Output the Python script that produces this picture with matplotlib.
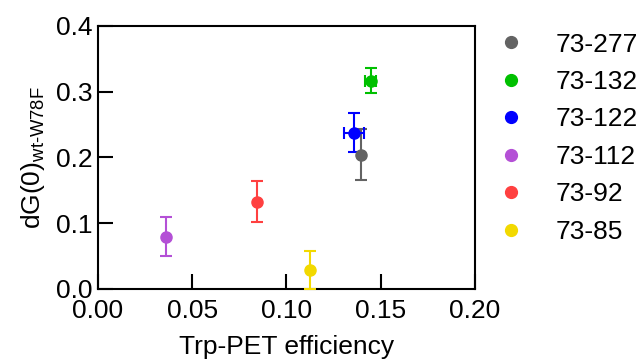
import matplotlib
matplotlib.use("Agg")
import matplotlib.pyplot as plt

plt.rcParams['font.family'] = ['Liberation Sans', 'DejaVu Sans']
plt.rcParams['mathtext.fontset'] = 'custom'
plt.rcParams['mathtext.rm'] = 'Liberation Sans'

# data
labels = ["73-277", "73-132", "73-122", "73-112", "73-92", "73-85"]
colors = ["#636363", "#00c000", "#0000ff", "#b450d6", "#ff4040", "#f2d900"]
pet_eff = [0.1394, 0.1447, 0.1358, 0.0362, 0.0846, 0.1124]
pet_err = [0.0, 0.003, 0.0053, 0.0, 0.0, 0.0]
dg0 = [0.204, 0.317, 0.238, 0.0795, 0.133, 0.029]
dg0_err = [0.039, 0.019, 0.029, 0.030, 0.031, 0.029]
xticks = [0.00, 0.05, 0.10, 0.15, 0.20]
yticks = [0.0, 0.1, 0.2, 0.3, 0.4]

fig = plt.figure(figsize=(6.43, 3.63), dpi=100)
ax = fig.add_axes([0.1524, 0.2039, 0.5863, 0.7245])

for lab, c, x, xe, y, ye in zip(labels, colors, pet_eff, pet_err, dg0, dg0_err):
    ax.errorbar(x, y, yerr=ye, xerr=xe if xe > 0 else None, fmt='o', color=c,
                ms=8, elinewidth=1.5, capsize=4, capthick=1.5, label=lab,
                clip_on=False, zorder=3)

ax.set_xlim(0, 0.2)
ax.set_ylim(0, 0.4)
ax.set_xticks(xticks)
ax.set_yticks(yticks)
ax.set_xticklabels(["%.2f" % t for t in xticks])
ax.set_yticklabels(["%.1f" % t for t in yticks])
ax.tick_params(direction='in', length=10.5, width=1.5, labelsize=19)
ax.tick_params(axis='y', pad=4)
ax.tick_params(axis='x', pad=7)
for s in ax.spines.values():
    s.set_linewidth(1.5)

ax.set_xlabel("Trp-PET efficiency", fontsize=19, labelpad=9)
ax.set_ylabel(r"dG(0)$_{\mathregular{wt\text{-}W78F}}$", fontsize=19, labelpad=6)

handles = [plt.Line2D([], [], marker='o', ls='', color=c, ms=8.5) for c in colors]
fig.legend(handles, labels, loc='upper left', bbox_to_anchor=(0.757, 0.9395),
           frameon=False, fontsize=19, handletextpad=1.2, labelspacing=0.51,
           handlelength=1.0, borderaxespad=0)

fig.savefig("out.png", dpi=100)
